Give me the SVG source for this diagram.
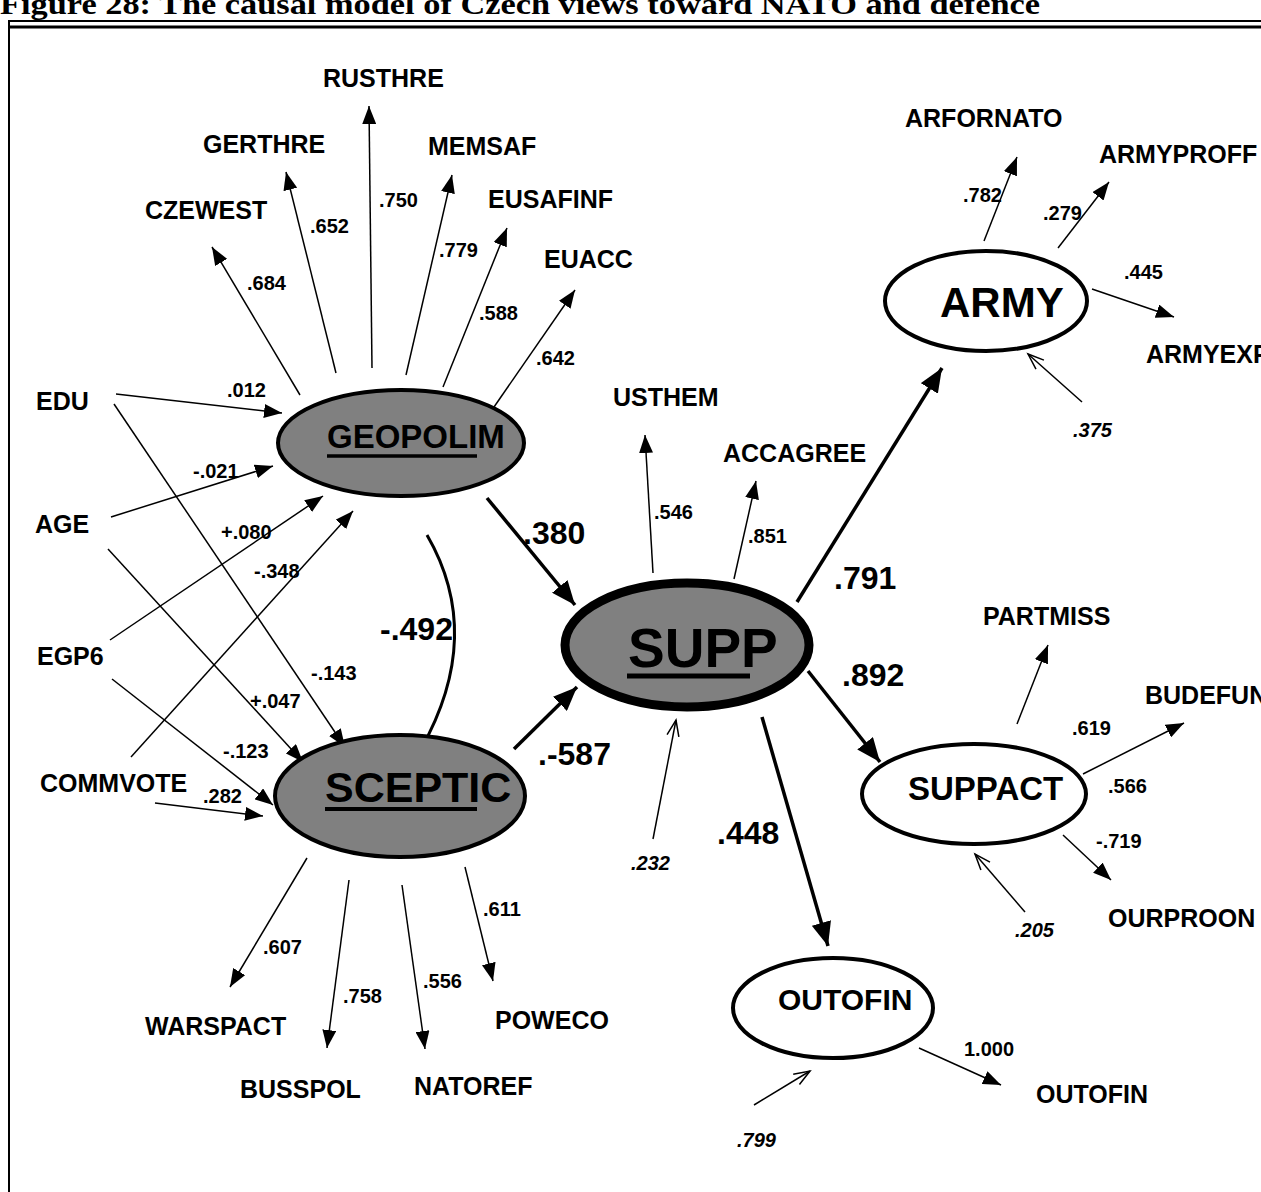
<svg xmlns="http://www.w3.org/2000/svg" width="1261" height="1192" viewBox="0 0 1261 1192">
<defs>
<style>
text{font-family:"Liberation Sans",Arial,sans-serif;font-weight:bold;fill:#000}
.lbl{font-size:25px}
.val{font-size:20px}
.big{font-size:32px}
.err{font-size:20px;font-style:italic}
.thin{stroke:#000;stroke-width:1.5;fill:none;marker-end:url(#ah)}
.thick{stroke:#000;stroke-width:3.5;fill:none;marker-end:url(#ahb)}
.dist{stroke:#000;stroke-width:1.5;fill:none;marker-end:url(#aho)}
.lat{fill:#808080;stroke:#000;stroke-width:4}
.wlat{fill:#fff;stroke:#000;stroke-width:4}
</style>
<marker id="ah" markerUnits="userSpaceOnUse" markerWidth="20" markerHeight="14" refX="18" refY="7" orient="auto">
<path d="M0,0 L18,7 L0,14 z" fill="#000"/>
</marker>
<marker id="ahb" markerUnits="userSpaceOnUse" markerWidth="26" markerHeight="20" refX="24" refY="10" orient="auto">
<path d="M0,0 L24,10 L0,20 z" fill="#000"/>
</marker>
<marker id="aho" markerUnits="userSpaceOnUse" markerWidth="20" markerHeight="14" refX="17" refY="7" orient="auto">
<path d="M1,1 L17,7 L1,13" fill="none" stroke="#000" stroke-width="1.5"/>
</marker>
</defs>
<rect width="1261" height="1192" fill="#fff"/>
<g id="title">
<text x="0" y="14" style="font-family:'Liberation Serif','Times New Roman',serif;font-size:30px" textLength="1040" lengthAdjust="spacingAndGlyphs">Figure 28: The causal model of Czech views toward NATO and defence</text>
</g>
<g id="frame" stroke="#000" fill="none">
<line x1="8" y1="21" x2="1261" y2="21" stroke-width="2"/>
<line x1="8" y1="27" x2="1261" y2="27" stroke-width="3"/>
<line x1="9" y1="20" x2="9" y2="1192" stroke-width="2"/>
</g>
<g id="connectors">
<!-- GEOPOLIM indicators -->
<line class="thin" x1="300" y1="395" x2="212" y2="247"/>
<line class="thin" x1="336" y1="373" x2="286" y2="172"/>
<line class="thin" x1="372" y1="368" x2="369" y2="106"/>
<line class="thin" x1="406" y1="375" x2="452" y2="175"/>
<line class="thin" x1="443" y1="387" x2="507" y2="228"/>
<line class="thin" x1="494" y1="407" x2="575" y2="290"/>
<!-- exogenous -->
<line class="thin" x1="116" y1="394" x2="282" y2="413"/>
<line class="thin" x1="114" y1="404" x2="345" y2="747"/>
<line class="thin" x1="111" y1="517" x2="273" y2="466"/>
<line class="thin" x1="108" y1="549" x2="303" y2="762"/>
<line class="thin" x1="110" y1="640" x2="323" y2="496"/>
<line class="thin" x1="112" y1="679" x2="273" y2="805"/>
<line class="thin" x1="131" y1="757" x2="353" y2="511"/>
<line class="thin" x1="155" y1="803" x2="263" y2="816"/>
<!-- correlation -->
<path d="M427,535 Q485,635 421,749" stroke="#000" stroke-width="3" fill="none"/>
<!-- structural -->
<line class="thick" x1="487" y1="498" x2="575" y2="605"/>
<line class="thick" x1="514" y1="749" x2="577" y2="687"/>
<line class="thick" x1="797" y1="602" x2="942" y2="368"/>
<line class="thick" x1="808" y1="671" x2="880" y2="762"/>
<line class="thick" x1="762" y1="717" x2="828" y2="946"/>
<!-- SUPP indicators -->
<line class="thin" x1="653" y1="573" x2="645" y2="435"/>
<line class="thin" x1="734" y1="579" x2="756" y2="481"/>
<!-- ARMY indicators -->
<line class="thin" x1="984" y1="241" x2="1017" y2="157"/>
<line class="thin" x1="1058" y1="248" x2="1109" y2="182"/>
<line class="thin" x1="1092" y1="289" x2="1174" y2="317"/>
<!-- SUPPACT indicators -->
<line class="thin" x1="1017" y1="724" x2="1048" y2="645"/>
<line class="thin" x1="1083" y1="774" x2="1184" y2="723"/>
<line class="thin" x1="1063" y1="835" x2="1111" y2="880"/>
<!-- OUTOFIN indicator -->
<line class="thin" x1="919" y1="1048" x2="1001" y2="1085"/>
<!-- SCEPTIC indicators -->
<line class="thin" x1="307" y1="858" x2="230" y2="987"/>
<line class="thin" x1="349" y1="880" x2="327" y2="1048"/>
<line class="thin" x1="402" y1="885" x2="425" y2="1049"/>
<line class="thin" x1="465" y1="867" x2="493" y2="981"/>
<!-- disturbances -->
<line class="dist" x1="653" y1="839" x2="676" y2="720"/>
<line class="dist" x1="1082" y1="402" x2="1028" y2="354"/>
<line class="dist" x1="1025" y1="912" x2="975" y2="854"/>
<line class="dist" x1="754" y1="1105" x2="810" y2="1071"/>
</g>
<g id="GEOPOLIM">
<ellipse class="lat" cx="401" cy="443" rx="123" ry="53"/>
<text x="327" y="448" style="font-size:33px">GEOPOLIM</text>
<line x1="327" y1="456" x2="477" y2="456" stroke="#000" stroke-width="3.5"/>
</g>
<g id="SCEPTIC">
<ellipse class="lat" cx="400" cy="796" rx="125" ry="61"/>
<text x="325" y="802" style="font-size:43px">SCEPTIC</text>
<line x1="325" y1="809" x2="477" y2="809" stroke="#000" stroke-width="4"/>
</g>
<g id="SUPP">
<ellipse cx="687" cy="645" rx="122" ry="62" fill="#808080" stroke="#000" stroke-width="9"/>
<text x="628" y="667" style="font-size:55px">SUPP</text>
<line x1="627" y1="676" x2="750" y2="676" stroke="#000" stroke-width="5"/>
</g>
<g id="ARMY">
<ellipse class="wlat" cx="986" cy="301" rx="101" ry="50"/>
<text x="940" y="317" style="font-size:42px">ARMY</text>
</g>
<g id="SUPPACT">
<ellipse class="wlat" cx="974" cy="794" rx="112" ry="50"/>
<text x="908" y="800" style="font-size:33px">SUPPACT</text>
</g>
<g id="OUTOFIN">
<ellipse class="wlat" cx="833" cy="1008" rx="100" ry="50"/>
<text x="778" y="1010" style="font-size:30px">OUTOFIN</text>
</g>
<g id="indicators">
<text class="lbl" x="323" y="87">RUSTHRE</text>
<text class="lbl" x="203" y="153">GERTHRE</text>
<text class="lbl" x="145" y="219">CZEWEST</text>
<text class="lbl" x="428" y="155">MEMSAF</text>
<text class="lbl" x="488" y="208">EUSAFINF</text>
<text class="lbl" x="544" y="268">EUACC</text>
<text class="lbl" x="36" y="410">EDU</text>
<text class="lbl" x="35" y="533">AGE</text>
<text class="lbl" x="37" y="665">EGP6</text>
<text class="lbl" x="40" y="792">COMMVOTE</text>
<text class="lbl" x="613" y="406">USTHEM</text>
<text class="lbl" x="723" y="462">ACCAGREE</text>
<text class="lbl" x="905" y="127">ARFORNATO</text>
<text class="lbl" x="1099" y="163">ARMYPROFF</text>
<text class="lbl" x="1146" y="363">ARMYEXP</text>
<text class="lbl" x="983" y="625">PARTMISS</text>
<text class="lbl" x="1145" y="704">BUDEFUN</text>
<text class="lbl" x="1108" y="927">OURPROON</text>
<text class="lbl" x="1036" y="1103">OUTOFIN</text>
<text class="lbl" x="145" y="1035">WARSPACT</text>
<text class="lbl" x="240" y="1098">BUSSPOL</text>
<text class="lbl" x="414" y="1095">NATOREF</text>
<text class="lbl" x="495" y="1029">POWECO</text>
</g>
<g id="labels">
<text class="val" x="379" y="207">.750</text>
<text class="val" x="310" y="233">.652</text>
<text class="val" x="247" y="290">.684</text>
<text class="val" x="439" y="257">.779</text>
<text class="val" x="479" y="320">.588</text>
<text class="val" x="536" y="365">.642</text>
<text class="val" x="227" y="397">.012</text>
<text class="val" x="193" y="478">-.021</text>
<text class="val" x="221" y="539">+.080</text>
<text class="val" x="254" y="578">-.348</text>
<text class="val" x="311" y="680">-.143</text>
<text class="val" x="250" y="708">+.047</text>
<text class="val" x="223" y="758">-.123</text>
<text class="val" x="203" y="803">.282</text>
<text class="big" x="380" y="640">-.492</text>
<text class="big" x="523" y="544">.380</text>
<text class="big" x="538" y="765">.-587</text>
<text class="big" x="834" y="589">.791</text>
<text class="big" x="842" y="686">.892</text>
<text class="big" x="717" y="844">.448</text>
<text class="val" x="654" y="519">.546</text>
<text class="val" x="748" y="543">.851</text>
<text class="err" x="631" y="870">.232</text>
<text class="val" x="963" y="202">.782</text>
<text class="val" x="1043" y="220">.279</text>
<text class="val" x="1124" y="279">.445</text>
<text class="err" x="1073" y="437">.375</text>
<text class="val" x="1072" y="735">.619</text>
<text class="val" x="1108" y="793">.566</text>
<text class="val" x="1096" y="848">-.719</text>
<text class="err" x="1015" y="937">.205</text>
<text class="val" x="964" y="1056">1.000</text>
<text class="err" x="737" y="1147">.799</text>
<text class="val" x="263" y="954">.607</text>
<text class="val" x="343" y="1003">.758</text>
<text class="val" x="423" y="988">.556</text>
<text class="val" x="483" y="916">.611</text>
</g>
</svg>
